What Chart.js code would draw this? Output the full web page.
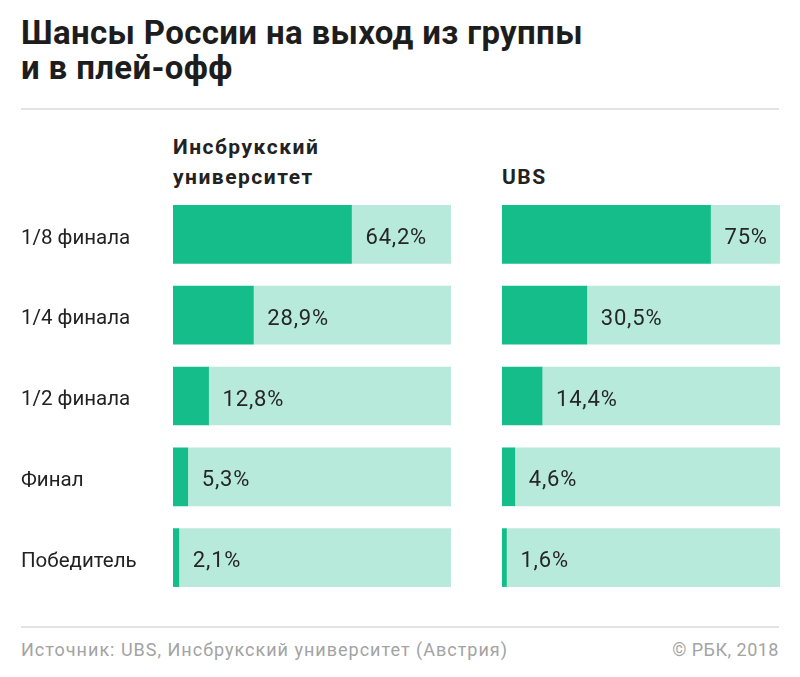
<!DOCTYPE html>
<html lang="ru">
<head>
<meta charset="utf-8">
<script src="https://cdn.jsdelivr.net/npm/chart.js@4"></script>
<style>
  html, body { margin: 0; padding: 0; background: #fff; }
  body { width: 800px; height: 677px; position: relative; font-family: Roboto, "Noto Sans", sans-serif; color: #222; overflow: hidden; }
  .title { position: absolute; left: 21px; top: 15px; font-size: 33px; font-weight: 700; line-height: 35px; color: #1d1d1d; letter-spacing: 0.35px; }
  .rule { position: absolute; left: 21px; width: 758px; height: 0; border-top: 2px solid #e3e3e3; }
  .head { position: absolute; top: 132px; font-size: 21px; font-weight: 700; line-height: 30px; color: #222; letter-spacing: 1.5px; }
  .foot { position: absolute; top: 639px; font-size: 18px; color: #a3a3a3; letter-spacing: 1px; }
  .wrap { position: absolute; top: 194px; height: 404px; }
</style>
</head>
<body>
<div class="title">Шансы России на выход из группы<br>и в плей-офф</div>
<div class="rule" style="top:108px"></div>
<div class="head" style="left:173px">Инсбрукский<br>университет</div>
<div class="head" style="left:502px;top:162px">UBS</div>
<div class="wrap" style="left:0;width:451px"><canvas id="left"></canvas></div>
<div class="wrap" style="left:502px;width:278px"><canvas id="right"></canvas></div>
<div class="rule" style="top:626px"></div>
<div class="foot" style="left:21px">Источник: UBS, Инсбрукский университет (Австрия)</div>
<div class="foot" style="right:21px;letter-spacing:0.5px">© РБК, 2018</div>
<script>
const stages = ['1/8 финала', '1/4 финала', '1/2 финала', 'Финал', 'Победитель'];
const innsbruck = [64.2, 28.9, 12.8, 5.3, 2.1];
const ubs = [75, 30.5, 14.4, 4.6, 1.6];

const dark = '#14bd8a';
const light = '#b8eadb';

const valueLabels = {
  id: 'valueLabels',
  afterDatasetsDraw(chart) {
    const ctx = chart.ctx;
    const meta = chart.getDatasetMeta(0);
    const vals = chart.data.datasets[0].data;
    ctx.save();
    ctx.font = '22px Roboto, "Noto Sans", sans-serif';
    ctx.letterSpacing = '0.8px';
    ctx.fillStyle = '#262626';
    ctx.textBaseline = 'middle';
    ctx.textAlign = 'left';
    meta.data.forEach((bar, i) => {
      const txt = String(vals[i]).replace('.', ',') + '%';
      ctx.fillText(txt, bar.x + 14, bar.y + 4);
    });
    ctx.restore();
  }
};

function makeChart(id, values, showLabels) {
  return new Chart(document.getElementById(id), {
    type: 'bar',
    data: {
      labels: stages,
      datasets: [
        { data: values, backgroundColor: dark, barThickness: 58 },
        { data: values.map(v => 100 - v), backgroundColor: light, barThickness: 58 }
      ]
    },
    options: {
      indexAxis: 'y',
      responsive: true,
      maintainAspectRatio: false,
      animation: false,
      events: [],
      layout: { padding: { left: showLabels ? 21 : 0, right: 0, top: 0, bottom: 0 } },
      plugins: { legend: { display: false }, tooltip: { enabled: false } },
      scales: {
        x: { stacked: true, min: 0, max: 100, display: false },
        y: {
          stacked: true,
          display: showLabels,
          grid: { display: false },
          border: { display: false },
          afterFit(scale) {
            scale.width = showLabels ? 152 : 0;
            scale.paddingTop = 0;
            scale.paddingBottom = 0;
          },
          ticks: {
            crossAlign: 'far',
            labelOffset: 4,
            color: '#222',
            font: { family: 'Roboto, "Noto Sans", sans-serif', size: 20.5 }
          }
        }
      }
    },
    plugins: [valueLabels]
  });
}

makeChart('left', innsbruck, true);
makeChart('right', ubs, false);
</script>
</body>
</html>
